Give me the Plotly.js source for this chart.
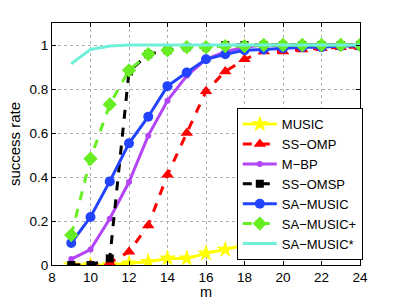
<!DOCTYPE html>
<html>
<head>
<meta charset="utf-8">
<script src="https://cdn.plot.ly/plotly-3.0.1.min.js"></script>
<style>html,body{margin:0;padding:0;background:#fff;}#chart{width:398px;height:300px;}</style>
</head>
<body>
<div id="chart"></div>
<script>
const m = [9,10,11,12,13,14,15,16,17,18,19,20,21,22,23,24];
const music     = [0,0,0,0.008,0.015,0.03,0.03,0.053,0.07,0.09,0.12,0.16,0.2,0.25,0.3,0.35];
const ssOmp     = [0,0,0.01,0.06,0.18,0.41,0.6,0.79,0.88,0.935,0.97,0.97,0.98,0.985,0.99,0.99];
const mBp       = [0.027,0.07,0.21,0.377,0.588,0.747,0.86,0.935,0.97,0.99,1,1,1,1,1,1];
const ssOmsp    = [0,0,0.03,0.88,0.958,0.976,0.99,0.99,1,1,1,1,1,1,1,1];
const saMusic   = [0.1,0.218,0.38,0.553,0.674,0.813,0.875,0.935,0.958,0.976,0.98,0.985,0.99,0.99,0.995,0.995];
const saMusicP  = [0.136,0.483,0.73,0.885,0.958,0.976,0.99,0.99,0.995,0.995,1,1,1,1,1,1];
const saMusicS  = [0.915,0.98,0.995,1,1,1,1,1,1,1,1,1,1,1,1,1];
const names = ['MUSIC','SS\u2212OMP','M\u2212BP','SS\u2212OMSP','SA\u2212MUSIC','SA\u2212MUSIC+','SA\u2212MUSIC*'];

const traces = [
  {x:m,y:music,name:names[0],mode:'lines+markers',line:{color:'#ffff00',width:3},marker:{symbol:'star',size:13,color:'#ffff00'}},
  {x:m,y:ssOmp,name:names[1],mode:'lines+markers',line:{color:'#ff0000',width:3,dash:'dash'},marker:{symbol:'triangle-up',size:11,color:'#ff0000'}},
  {x:m,y:mBp,name:names[2],mode:'lines+markers',line:{color:'#b445f5',width:3},marker:{symbol:'circle',size:6,color:'#b445f5'}},
  {x:m,y:ssOmsp,name:names[3],mode:'lines+markers',line:{color:'#000000',width:3,dash:'dash'},marker:{symbol:'square',size:8,color:'#000000'}},
  {x:m,y:saMusic,name:names[4],mode:'lines+markers',line:{color:'#2244ff',width:3},marker:{symbol:'circle',size:10,color:'#2244ff'}},
  {x:m,y:saMusicP,name:names[5],mode:'lines+markers',line:{color:'#66ee22',width:3,dash:'dash'},marker:{symbol:'diamond',size:11,color:'#66ee22'}},
  {x:m,y:saMusicS,name:names[6],mode:'lines',line:{color:'#70f0d8',width:3}}
];

const layout = {
  width:398,height:300,
  margin:{l:52,r:38,t:23,b:35},
  paper_bgcolor:'#ffffff',plot_bgcolor:'#ffffff',
  font:{family:'Liberation Sans, Arial, sans-serif',size:13,color:'#000'},
  showlegend:true,
  legend:{x:0.6,y:0.02,xanchor:'left',yanchor:'bottom',bgcolor:'#ffffff',bordercolor:'#000',borderwidth:1,font:{size:13},tracegroupgap:0,itemwidth:34},
  xaxis:{range:[8,24],tickvals:[8,10,12,14,16,18,20,22,24],showgrid:true,gridcolor:'#b0b0b0',griddash:'dot',gridwidth:1,
    showline:true,linecolor:'#000',linewidth:1,mirror:'ticks',ticks:'inside',ticklen:4,tickcolor:'#000',zeroline:false,
    tickfont:{size:13.5},automargin:false,
    title:{text:'m',font:{size:14.5},standoff:7}},
  yaxis:{range:[0,1.1],tickvals:[0,0.2,0.4,0.6,0.8,1],ticktext:['0','0.2','0.4','0.6','0.8','1'],showgrid:true,gridcolor:'#b0b0b0',griddash:'dot',gridwidth:1,
    showline:true,linecolor:'#000',linewidth:1,mirror:'ticks',ticks:'inside',ticklen:4,tickcolor:'#000',zeroline:false,
    tickfont:{size:13.5},
    title:{text:'success rate',font:{size:15},standoff:5}}
};
Plotly.newPlot('chart',traces,layout,{displayModeBar:false,staticPlot:true});
</script>
</body>
</html>
